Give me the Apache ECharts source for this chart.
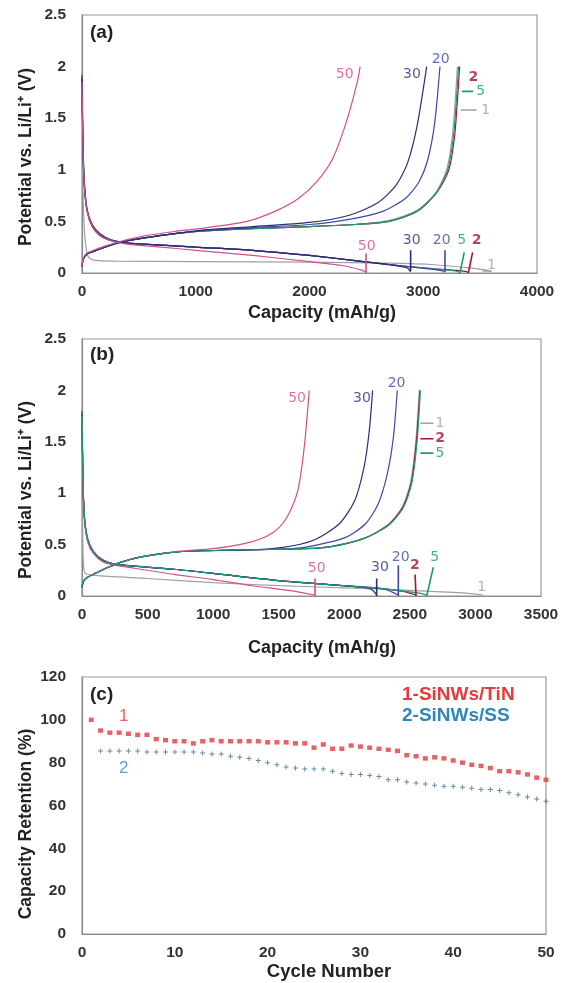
<!DOCTYPE html>
<html><head><meta charset="utf-8">
<script src="https://cdn.jsdelivr.net/npm/echarts@6/dist/echarts.min.js"></script>
<style>html,body{margin:0;padding:0;background:#fff}#c{width:563px;height:983px}</style>
</head><body><div id="c"></div>
<script>
// ---------- Panel (a): SiNWs/TiN voltage profiles ----------
const aDis1  = [[0,1.7],[6,1.0],[15,0.55],[30,0.3],[55,0.16],[100,0.125],[300,0.115],[1000,0.11],[2000,0.105],[2700,0.095],[3100,0.08],[3400,0.05],[3550,0.03],[3601,0.01]];
const aDis2  = [[0,1.92],[8,1.3],[20,0.9],[45,0.62],[90,0.47],[160,0.38],[260,0.32],[400,0.29],[700,0.27],[1000,0.25],[1500,0.22],[2000,0.17],[2400,0.12],[2800,0.07],[3100,0.04],[3300,0.025],[3370,0.015],[3396,0.005]];
const aDis5  = [[0,1.9],[8,1.28],[20,0.88],[45,0.61],[90,0.46],[160,0.37],[260,0.32],[400,0.29],[700,0.27],[1000,0.25],[1500,0.22],[2000,0.17],[2400,0.12],[2800,0.07],[3100,0.04],[3280,0.02],[3323,0.005]];
const aDis20 = [[0,1.9],[8,1.25],[20,0.86],[45,0.6],[90,0.46],[160,0.37],[260,0.32],[400,0.29],[700,0.27],[1000,0.25],[1500,0.22],[2000,0.17],[2400,0.12],[2800,0.07],[3050,0.04],[3170,0.02],[3191,0.008]];
const aDis30 = [[0,1.88],[8,1.22],[20,0.85],[45,0.6],[90,0.45],[160,0.36],[260,0.31],[400,0.29],[700,0.27],[1000,0.25],[1500,0.22],[2000,0.17],[2400,0.12],[2700,0.08],[2860,0.05],[2889,0.01]];
const aDis50 = [[0,1.85],[8,1.2],[20,0.85],[45,0.6],[90,0.45],[160,0.36],[260,0.31],[400,0.28],[700,0.25],[1000,0.22],[1500,0.17],[2000,0.11],[2300,0.07],[2450,0.03],[2497,0.01]];
const aChg1  = [[0,0.06],[10,0.13],[40,0.18],[100,0.21],[200,0.25],[350,0.3],[550,0.34],[800,0.38],[1100,0.41],[1500,0.43],[2000,0.45],[2400,0.47],[2700,0.51],[2950,0.61],[3110,0.78],[3205,1.0],[3255,1.32],[3283,1.7],[3300,2.0]];
const aChg2  = [[0,0.06],[10,0.13],[40,0.18],[100,0.21],[200,0.25],[350,0.3],[550,0.34],[800,0.38],[1100,0.41],[1500,0.43],[2000,0.45],[2400,0.47],[2700,0.5],[2950,0.6],[3120,0.78],[3225,1.0],[3275,1.32],[3302,1.7],[3320,2.0]];
const aChg5  = [[0,0.06],[10,0.13],[40,0.18],[100,0.21],[200,0.25],[350,0.3],[550,0.34],[800,0.38],[1100,0.41],[1500,0.43],[2000,0.45],[2400,0.47],[2700,0.5],[2950,0.6],[3115,0.78],[3215,1.0],[3265,1.32],[3293,1.7],[3310,2.0]];
const aChg20 = [[0,0.06],[10,0.13],[40,0.18],[100,0.21],[200,0.25],[350,0.3],[550,0.34],[800,0.38],[1100,0.41],[1500,0.44],[2000,0.47],[2350,0.52],[2650,0.6],[2850,0.73],[2960,0.88],[3040,1.1],[3100,1.45],[3147,2.0]];
const aChg30 = [[0,0.06],[10,0.13],[40,0.18],[100,0.21],[200,0.25],[350,0.3],[550,0.34],[800,0.38],[1100,0.42],[1500,0.45],[2000,0.49],[2350,0.56],[2600,0.68],[2760,0.85],[2860,1.06],[2945,1.42],[3030,2.0]];
const aChg50 = [[0,0.06],[10,0.14],[40,0.19],[100,0.22],[200,0.26],[350,0.31],[550,0.36],[800,0.4],[1100,0.44],[1450,0.5],[1700,0.6],[1900,0.72],[2060,0.88],[2200,1.1],[2320,1.45],[2420,1.85],[2445,2.0]];

// ---------- Panel (b): SiNWs/SS voltage profiles ----------
const bDis1  = [[0,1.6],[5,0.6],[12,0.3],[25,0.22],[100,0.2],[500,0.17],[1000,0.13],[1500,0.1],[2000,0.08],[2500,0.055],[2900,0.03],[3060,0.01]];
const bDis2  = [[0,1.8],[8,1.1],[20,0.75],[45,0.55],[90,0.43],[160,0.35],[250,0.31],[400,0.29],[700,0.26],[1000,0.22],[1500,0.15],[2000,0.1],[2300,0.07],[2450,0.045],[2547,0.01]];
const bDis5  = [[0,1.8],[8,1.1],[20,0.75],[45,0.55],[90,0.43],[160,0.35],[250,0.31],[400,0.29],[700,0.26],[1000,0.22],[1500,0.15],[2000,0.1],[2300,0.07],[2500,0.04],[2600,0.02],[2628,0.005]];
const bDis20 = [[0,1.78],[8,1.08],[20,0.74],[45,0.54],[90,0.42],[160,0.35],[250,0.31],[400,0.29],[700,0.26],[1000,0.22],[1500,0.15],[2000,0.1],[2300,0.07],[2412,0.01]];
const bDis30 = [[0,1.77],[8,1.07],[20,0.73],[45,0.53],[90,0.42],[160,0.34],[250,0.31],[400,0.29],[700,0.26],[1000,0.22],[1500,0.15],[2000,0.1],[2200,0.07],[2247,0.01]];
const bDis50 = [[0,1.75],[8,1.05],[20,0.72],[45,0.52],[90,0.41],[160,0.33],[250,0.3],[400,0.27],[700,0.21],[1000,0.16],[1300,0.1],[1600,0.05],[1777,0.01]];
const bChg1  = [[0,0.08],[10,0.14],[40,0.18],[100,0.22],[200,0.28],[300,0.33],[450,0.38],[650,0.42],[900,0.44],[1300,0.45],[1700,0.46],[1900,0.48],[2150,0.56],[2330,0.69],[2440,0.86],[2505,1.1],[2545,1.5],[2572,2.0]];
const bChg2  = [[0,0.08],[10,0.14],[40,0.18],[100,0.22],[200,0.28],[300,0.33],[450,0.38],[650,0.42],[900,0.44],[1300,0.45],[1700,0.46],[1900,0.48],[2150,0.56],[2335,0.69],[2445,0.86],[2510,1.1],[2550,1.5],[2577,2.0]];
const bChg5  = [[0,0.08],[10,0.14],[40,0.18],[100,0.22],[200,0.28],[300,0.33],[450,0.38],[650,0.42],[900,0.44],[1300,0.45],[1700,0.46],[1900,0.48],[2150,0.56],[2340,0.69],[2450,0.86],[2515,1.1],[2555,1.5],[2580,2.0]];
const bChg20 = [[0,0.08],[10,0.14],[40,0.18],[100,0.22],[200,0.28],[300,0.33],[450,0.38],[650,0.42],[900,0.44],[1300,0.45],[1600,0.46],[1770,0.49],[2010,0.57],[2160,0.7],[2260,0.9],[2330,1.2],[2375,1.55],[2404,2.0]];
const bChg30 = [[0,0.08],[10,0.14],[40,0.18],[100,0.22],[200,0.28],[300,0.33],[450,0.38],[650,0.42],[900,0.44],[1300,0.45],[1520,0.47],[1760,0.54],[1960,0.7],[2080,0.93],[2150,1.25],[2190,1.6],[2216,2.0]];
const bChg50 = [[0,0.08],[10,0.14],[40,0.18],[100,0.22],[200,0.28],[300,0.33],[450,0.38],[700,0.43],[1000,0.46],[1200,0.5],[1350,0.55],[1460,0.62],[1540,0.72],[1600,0.86],[1650,1.05],[1695,1.45],[1733,2.0]];

// ---------- Panel (c): capacity retention ----------
const cycles = [1,2,3,4,5,6,7,8,9,10,11,12,13,14,15,16,17,18,19,20,21,22,23,24,25,26,27,28,29,30,31,32,33,34,35,36,37,38,39,40,41,42,43,44,45,46,47,48,49,50];
const retTiN = [100,95,94,94,93.5,93,93,91,90.5,90,90,89,90,90.5,90,90,90,90,90,89.5,89.5,89.5,89,89,87,88.5,86.5,86.5,88,87.5,87,86.5,86,85.5,83.5,83,82,82.5,82,81,80,79,78.5,77.5,76,76,75.5,74.5,73,72];
const retSS  = [null,85.5,85.5,85.5,85.5,85.5,85,85,85,85,85,85,84.5,84,84,83,82.5,82,81,80,79,78,77.5,77,77,77,76,75,74.5,74.5,74,73.5,72,72,71,70.5,70,69.5,69,69,68.5,68,67.5,67.5,67,66,65,64,63,62];

// ---------- Tick labels / categories ----------
const cycleNames = ['1','2','5','20','30','50'];
const aXTicks = [0,1000,2000,3000,4000];
const bXTicks = [0,500,1000,1500,2000,2500,3000,3500];
const cXTicks = [0,10,20,30,40,50];

// annotation anchors (data coordinates)
const aTopLabels = [['50',2310,1.92,'50'],['30',2900,1.92,'30'],['20',3153,2.07,'20'],['2',3440,1.9,'2'],['5',3505,1.76,'5'],['1',3550,1.58,'1']];
const aBotLabels = [['50',2503,0.26,'50'],['30',2898,0.32,'30'],['20',3162,0.32,'20'],['5',3338,0.32,'5'],['2',3470,0.32,'2'],['1',3600,0.07,'1']];
const aMarkers = [['50',[[2497,0],[2497,0.19]]],['30',[[2889,0.02],[2889,0.22]]],['20',[[3191,0.01],[3191,0.22]]],['5',[[3323,0],[3360,0.2]]],['2',[[3396,0],[3434,0.2]]],['1',[[3520,0.02],[3601,0.02]]],['5',[[3340,1.76],[3440,1.76]]],['1',[[3330,1.58],[3470,1.58]]]];
const bTopLabels = [['50',1640,1.92,'50'],['30',2135,1.92,'30'],['20',2399,2.07,'20'],['1',2730,1.68,'1'],['2',2730,1.53,'2'],['5',2730,1.39,'5']];
const bBotLabels = [['50',1790,0.27,'50'],['30',2272,0.28,'30'],['20',2430,0.38,'20'],['2',2539,0.3,'2'],['5',2690,0.38,'5'],['1',3048,0.08,'1']];
const bMarkers = [['50',[[1777,0],[1777,0.17]]],['30',[[2247,0],[2247,0.17]]],['20',[[2412,0],[2412,0.3]]],['2',[[2547,0],[2540,0.21]]],['5',[[2628,0],[2679,0.28]]],['1',[[2580,1.68],[2680,1.68]]],['2',[[2580,1.53],[2680,1.53]]],['5',[[2580,1.39],[2680,1.39]]]];

const col = {'1':'#a0a0a0','2':'#a3172c','5':'#1a9a78','20':'#3a4aa8','30':'#2c2c78','50':'#d3508c'};
const FONT = '"Liberation Sans", Arial, sans-serif';

const chart = echarts.init(document.getElementById('c'), null, {renderer:'canvas'});

function curve(data, name, gi, w){
  return {type:'line', name, xAxisIndex:gi, yAxisIndex:gi, data, showSymbol:false, symbol:'none',
    smooth:0.25, silent:true, lineStyle:{color:col[name], width:w||1.2}, z:2};
}
function labels(list, gi){
  return list.map(([t,x,y,c]) => ({type:'scatter', xAxisIndex:gi, yAxisIndex:gi, symbolSize:0, silent:true, z:5,
    data:[{value:[x,y], name:t}],
    label:{show:true, position:'inside', formatter:'{b}', color:col[c], fontSize:14,
      fontWeight: c==='2' ? 'bold' : 'normal', fontFamily:'"DejaVu Sans", sans-serif'}}));
}
function markers(list, gi){
  return list.map(([c,d]) => ({type:'line', xAxisIndex:gi, yAxisIndex:gi, data:d, showSymbol:false, symbol:'none', silent:true, z:4,
    lineStyle:{color:col[c], width:1.6}}));
}

function mkX(gi, max, interval){
  return {type:'value', gridIndex:gi, min:0, max, interval,
    axisLine:{show:true, lineStyle:{color:'#8a8a8a', width:1.2}}, axisTick:{show:false}, splitLine:{show:false},
    axisLabel:{fontFamily:FONT, fontWeight:'bold', fontSize:15.5, color:'#333', margin:11, formatter:v=>String(v)}};
}
function mkY(gi, max, interval){
  return {type:'value', gridIndex:gi, min:0, max, interval,
    axisLine:{show:true, lineStyle:{color:'#8a8a8a', width:1.2}}, axisTick:{show:false}, splitLine:{show:false},
    axisLabel:{fontFamily:FONT, fontWeight:'bold', fontSize:15.5, color:'#333', margin:16, formatter:v=>String(v)}};
}

const series = [];
[['1',aDis1,aChg1],['2',aDis2,aChg2],['5',aDis5,aChg5],['20',aDis20,aChg20],['30',aDis30,aChg30],['50',aDis50,aChg50]].forEach(([n,d,c])=>{
  series.push(curve(d,n,0)); series.push(curve(c,n,0));
});
series.push(...markers(aMarkers,0), ...labels(aTopLabels,0), ...labels(aBotLabels,0));
[['1',bDis1,bChg1],['2',bDis2,bChg2],['20',bDis20,bChg20],['30',bDis30,bChg30],['50',bDis50,bChg50],['5',bDis5,bChg5]].forEach(([n,d,c])=>{
  series.push(curve(d,n,1)); series.push(curve(c,n,1));
});
series.push(...markers(bMarkers,1), ...labels(bTopLabels,1), ...labels(bBotLabels,1));
series.push({type:'scatter', name:'1-SiNWs/TiN', xAxisIndex:2, yAxisIndex:2, symbol:'rect', symbolSize:[5,4.5], silent:true,
  itemStyle:{color:'#e43a3c'}, data: cycles.map((c,i)=>[c, retTiN[i]])});
series.push({type:'scatter', name:'2-SiNWs/SS', xAxisIndex:2, yAxisIndex:2, symbol:'path://M0,2h5v1h-5zM2,0h1v5h-1z', symbolSize:5, silent:true,
  itemStyle:{color:'#3f6f8c'}, data: cycles.map((c,i)=>[c, retSS[i]]).filter(p=>p[1]!==null)});
const cLabels = [['1',4.5,101.8,'#e2363a'],['2',4.5,77.5,'#2f86b8']];
cLabels.forEach(([t,x,y,c])=>series.push({type:'scatter', xAxisIndex:2, yAxisIndex:2, symbolSize:0, silent:true,
  data:[{value:[x,y],name:t}], label:{show:true, position:'inside', formatter:'{b}', color:c, fontSize:17, fontFamily:FONT}}));

const bold = s => 'bold ' + s + 'px "Liberation Sans", Arial, sans-serif';
function ytitle(text, cy){ return {type:'text', x:26, y:cy, rotation:Math.PI/2, style:{text, font:bold(17.5), fill:'#222', textAlign:'center', textVerticalAlign:'middle'}}; }
function xtitle(text, cx, cy, fs){ return {type:'text', x:cx, y:cy, style:{text, font:bold(fs), fill:'#222', textAlign:'center', textVerticalAlign:'middle'}}; }

const option = {
  animation:false,
  backgroundColor:'#fff',
  grid:[
    {left:82, top:15, width:455, height:258, show:true, borderColor:'#9a9a9a', borderWidth:1.2},
    {left:82, top:339, width:459, height:257, show:true, borderColor:'#9a9a9a', borderWidth:1.2},
    {left:82, top:677, width:464, height:257, show:true, borderColor:'#9a9a9a', borderWidth:1.2}
  ],
  xAxis:[
    mkX(0, aXTicks[aXTicks.length-1], aXTicks[1]-aXTicks[0]),
    mkX(1, bXTicks[bXTicks.length-1], bXTicks[1]-bXTicks[0]),
    mkX(2, cXTicks[cXTicks.length-1], cXTicks[1]-cXTicks[0])
  ],
  yAxis:[ mkY(0, 2.5, 0.5), mkY(1, 2.5, 0.5), mkY(2, 120, 20) ],
  graphic:[
    ytitle('Potential vs. Li/Li\u207A (V)', 157),
    ytitle('Potential vs. Li/Li\u207A (V)', 490),
    ytitle('Capacity Retention (%)', 824),
    xtitle('Capacity (mAh/g)', 322, 313, 18),
    xtitle('Capacity (mAh/g)', 322, 648, 18),
    xtitle('Cycle Number', 329, 972, 18.5),
    {type:'text', left:90, top:23, style:{text:'(a)', font:bold(19), fill:'#222'}},
    {type:'text', left:90, top:345, style:{text:'(b)', font:bold(19), fill:'#222'}},
    {type:'text', left:90, top:685, style:{text:'(c)', font:bold(19), fill:'#222'}},
    {type:'text', left:402, top:685, style:{text:'1-SiNWs/TiN', font:bold(19), fill:'#e43a3c'}},
    {type:'text', left:402, top:706, style:{text:'2-SiNWs/SS', font:bold(19), fill:'#2f86b8'}}
  ],
  series
};
chart.setOption(option);
</script></body></html>
